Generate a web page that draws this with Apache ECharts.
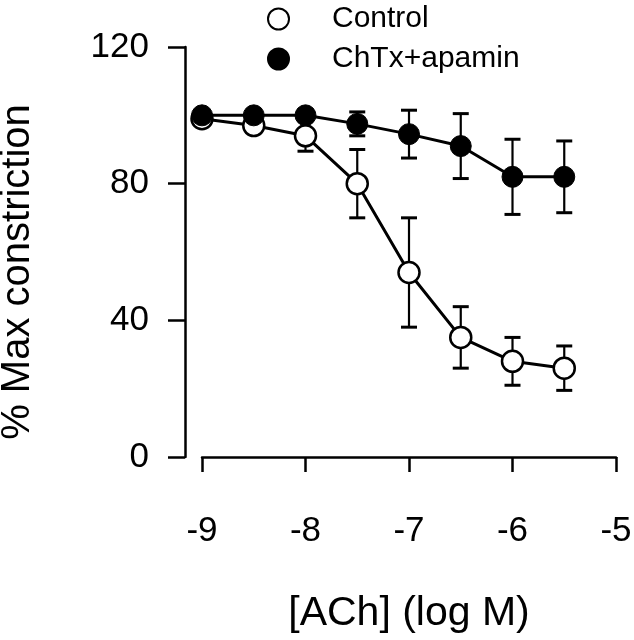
<!DOCTYPE html>
<html>
<head>
<meta charset="utf-8">
<script src="https://cdn.jsdelivr.net/npm/echarts@6/dist/echarts.min.js"></script>
<style>html,body{margin:0;padding:0;background:#fff;}#c{width:634px;height:640px;}</style>
</head>
<body>
<div id="c"></div>
<script>
const logConc = [-9, -8.5, -8, -7.5, -7, -6.5, -6, -5.5];
const controlMean = [99, 97, 94, 80, 54, 35, 28, 26];
const controlErr = [1, 2, 4.5, 10, 16, 9, 7, 6.5];
const chtxMean = [100, 100, 100, 97.5, 94.5, 91, 82, 82];
const chtxErr = [1, 1, 1.5, 3.5, 7, 9.5, 11, 10.5];
const xTicks = [-9, -8, -7, -6, -5];
const yTicks = [0, 40, 80, 120];

const FONT = 'Liberation Sans, Arial, sans-serif';
const pts = (m) => logConc.map((x, i) => [x, m[i]]);
const bars = (m, e) => logConc.map((x, i) => [x, m[i] + e[i], m[i] - e[i]]);

function errRender(params, api) {
  const x = api.value(0), hi = api.value(1), lo = api.value(2);
  const a = api.coord([x, hi]), b = api.coord([x, lo]);
  const w = 8;
  const st = { stroke: '#000', lineWidth: 2.2 };
  return { type: 'group', children: [
    { type: 'line', shape: { x1: a[0], y1: a[1], x2: b[0], y2: b[1] }, style: st },
    { type: 'line', shape: { x1: a[0] - w, y1: a[1], x2: a[0] + w, y2: a[1] }, style: { stroke: '#000', lineWidth: 3 } },
    { type: 'line', shape: { x1: b[0] - w, y1: b[1], x2: b[0] + w, y2: b[1] }, style: { stroke: '#000', lineWidth: 3 } }
  ]};
}

const chart = echarts.init(document.getElementById('c'), null, { renderer: 'canvas' });
chart.setOption({
  animation: false,
  backgroundColor: '#fff',
  grid: { left: 202, right: 18, top: 47, bottom: 183, containLabel: false, outerBoundsMode: 'none' },
  legend: {
    orient: 'vertical', left: 262, top: -1, itemGap: 10,
    icon: 'circle', itemWidth: 21, itemHeight: 21,
    data: ['Control', 'ChTx+apamin'],
    textStyle: { fontSize: 30, color: '#000', fontFamily: FONT, padding: [0, 0, 0, 38] }
  },
  xAxis: {
    type: 'value', min: xTicks[0], max: xTicks[xTicks.length - 1], interval: 1,
    offset: 15,
    name: '[ACh] (log M)', nameLocation: 'middle', nameGap: 121,
    nameTextStyle: { fontSize: 41, color: '#000', fontFamily: FONT },
    axisLine: { lineStyle: { color: '#000', width: 2.5 } },
    axisTick: { length: 15, lineStyle: { color: '#000', width: 2.5 } },
    splitLine: { show: false },
    axisLabel: { fontSize: 35, color: '#000', fontFamily: FONT, margin: 42 }
  },
  yAxis: {
    type: 'value', min: yTicks[0], max: yTicks[yTicks.length - 1], interval: 40,
    offset: 17,
    name: '% Max constriction', nameLocation: 'middle', nameGap: 147,
    nameTextStyle: { fontSize: 40, color: '#000', fontFamily: FONT, padding: [0, 40, 0, 0] },
    axisLine: { lineStyle: { color: '#000', width: 2.5 } },
    axisTick: { length: 17, lineStyle: { color: '#000', width: 2.5 } },
    splitLine: { show: false },
    axisLabel: { fontSize: 35, color: '#000', fontFamily: FONT, margin: 36 }
  },
  series: [
    { type: 'custom', name: 'errC', renderItem: errRender, data: bars(controlMean, controlErr), z: 1, silent: true },
    { type: 'custom', name: 'errT', renderItem: errRender, data: bars(chtxMean, chtxErr), z: 1, silent: true },
    {
      type: 'line', name: 'Control', data: pts(controlMean), z: 3,
      symbol: 'circle', symbolSize: 21, showAllSymbol: true,
      lineStyle: { color: '#000', width: 3 },
      itemStyle: { color: '#fff', borderColor: '#000', borderWidth: 2.5 }
    },
    {
      type: 'line', name: 'ChTx+apamin', data: pts(chtxMean), z: 4,
      symbol: 'circle', symbolSize: 21, showAllSymbol: true,
      lineStyle: { color: '#000', width: 3 },
      itemStyle: { color: '#000', borderColor: '#000', borderWidth: 1 }
    }
  ]
});
</script>
</body>
</html>
